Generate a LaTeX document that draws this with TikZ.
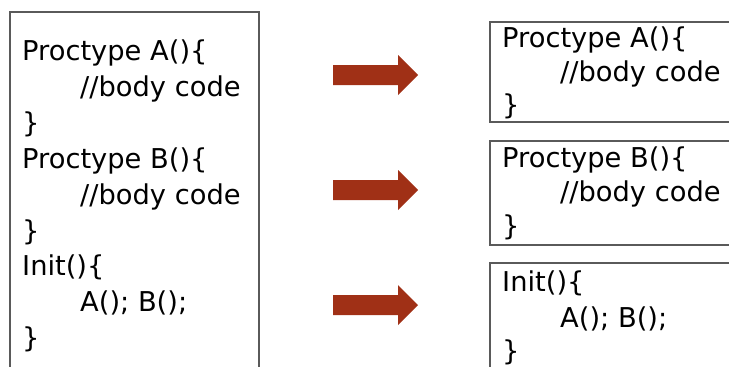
\documentclass[tikz,border=0pt]{standalone}
\usepackage{fontspec}
\setmainfont{DejaVu Sans}
\definecolor{framegray}{RGB}{90,90,90}
\definecolor{arrowred}{RGB}{160,48,22}
\begin{document}
\begin{tikzpicture}[x=1pt,y=-1pt,
  frame/.style={draw=framegray,line width=1.3pt},
  code/.style={anchor=base west,inner sep=0pt,font=\fontsize{27.3}{30}\selectfont},
  blockarrow/.style={fill=arrowred}]
\useasboundingbox (0,0) rectangle (729,367);
\clip (0,0) rectangle (729,367);

% source listing
\draw[frame] (10,12) rectangle (259,380);
\node[code] (la1) at (22,60)  {Proctype A()\{};
\node[code] (la2) at (80,96)  {//body code};
\node[code] (la3) at (22,132) {\}};
\node[code] (lb1) at (22,168) {Proctype B()\{};
\node[code] (lb2) at (80,204) {//body code};
\node[code] (lb3) at (22,240) {\}};
\node[code] (li1) at (22,275) {Init()\{};
\node[code] (li2) at (80,311) {A(); B();};
\node[code] (li3) at (22,347) {\}};

% split processes
\draw[frame] (490,22) rectangle (745,122);
\node[code] (ra1) at (502,47)  {Proctype A()\{};
\node[code] (ra2) at (560,81)  {//body code};
\node[code] (ra3) at (502,114) {\}};

\draw[frame] (490,141) rectangle (745,245);
\node[code] (rb1) at (502,167) {Proctype B()\{};
\node[code] (rb2) at (560,201) {//body code};
\node[code] (rb3) at (502,235) {\}};

\draw[frame] (490,263) rectangle (745,380);
\node[code] (ri1) at (502,291) {Init()\{};
\node[code] (ri2) at (560,327) {A(); B();};
\node[code] (ri3) at (502,360) {\}};

% block arrows
\foreach \yc in {75,190,305}
  \fill[blockarrow] (333,\yc-10) -- (398,\yc-10) -- (398,\yc-20) -- (418,\yc)
     -- (398,\yc+20) -- (398,\yc+10) -- (333,\yc+10) -- cycle;
\end{tikzpicture}
\end{document}
